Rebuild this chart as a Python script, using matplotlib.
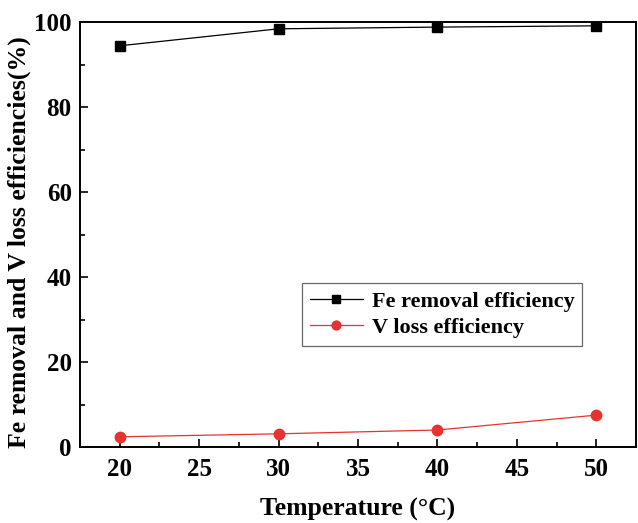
import matplotlib
matplotlib.use("Agg")
import matplotlib.pyplot as plt
from matplotlib.ticker import MultipleLocator

temperature = [20, 30, 40, 50]
fe_removal = [94.4, 98.4, 98.8, 99.1]
v_loss = [2.4, 3.1, 4.0, 7.5]

plt.rcParams['font.family'] = ['Liberation Serif', 'DejaVu Serif']
plt.rcParams['font.weight'] = 'bold'

fig = plt.figure(figsize=(6.38, 5.23), dpi=100)
ax = fig.add_axes([80 / 638, 1 - 447 / 523, 556 / 638, 425 / 523])

ax.plot(temperature, fe_removal, color="black", lw=0.9, marker="s", ms=6.5,
        label="Fe removal efficiency")
ax.plot(temperature, v_loss, color="#e8322f", lw=0.9, marker="o", ms=7.5,
        label="V loss efficiency")

ax.set_xlim(17.5, 52.5)
ax.set_ylim(0, 100)
ax.xaxis.set_major_locator(MultipleLocator(5))
ax.xaxis.set_minor_locator(MultipleLocator(2.5))
ax.yaxis.set_major_locator(MultipleLocator(20))
ax.yaxis.set_minor_locator(MultipleLocator(10))
ax.tick_params(which="both", direction="in", labelsize=18, width=1.2)
ax.tick_params(which="major", length=6)
ax.tick_params(which="minor", length=3.5)
ax.tick_params(axis="x", pad=8)
ax.tick_params(axis="y", pad=6)
for s in ax.spines.values():
    s.set_linewidth(1.4)

ax.set_xlabel("Temperature (\u00b0C)", fontsize=18.5, fontweight="bold", labelpad=12)
ax.set_ylabel("Fe removal and V loss efficiencies(%)", fontsize=18.5, fontweight="bold")
ax.yaxis.set_label_coords(-0.088, 0.482)

leg = ax.legend(loc="upper left", bbox_to_anchor=(0.399, 0.385), fontsize=16,
                frameon=True, fancybox=False, edgecolor="#444444", borderpad=0.35,
                borderaxespad=0, handlelength=2.4, handletextpad=0.4,
                labelspacing=0.25, markerscale=0.85)
leg.get_frame().set_linewidth(0.9)

fig.savefig("out.png", dpi=100)
